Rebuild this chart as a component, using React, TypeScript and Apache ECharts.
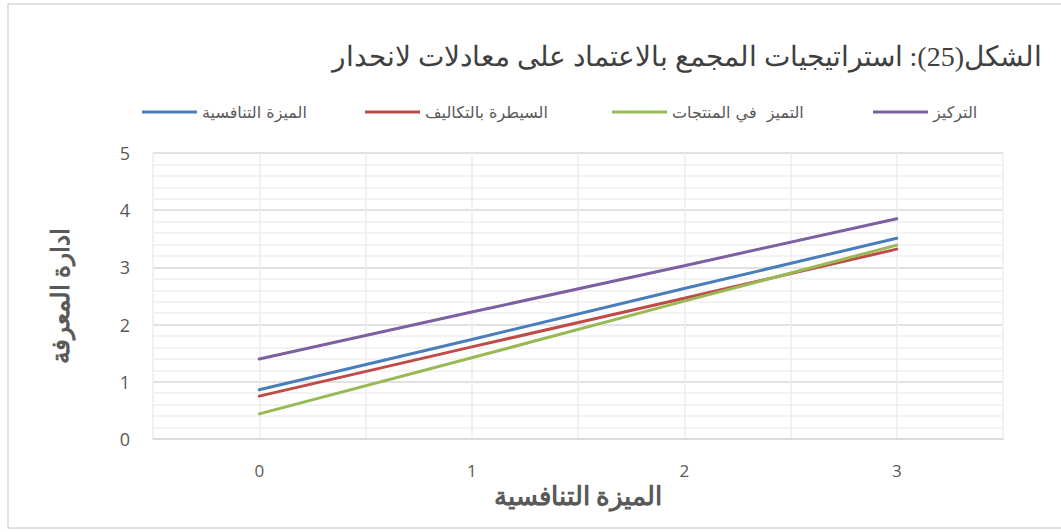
import React, { useEffect, useRef } from "react";
import * as echarts from "echarts";

const titleText = "الشكل(25): استراتيجيات المجمع بالاعتماد على معادلات لانحدار";
const xAxisName = "الميزة التنافسية";
const yAxisName = "ادارة المعرفة";

const xValues = [0, 1, 2, 3];
const xTickLabels = ["0", "1", "2", "3"];

const seriesNames = ["الميزة التنافسية", "السيطرة بالتكاليف", "التميز  في المنتجات", "التركيز"];
const competitive = [0.86, 1.74, 2.63, 3.51];
const costLeadership = [0.75, 1.61, 2.46, 3.32];
const differentiation = [0.44, 1.42, 2.41, 3.39];
const focus = [1.4, 2.22, 3.03, 3.85];
const seriesValues = [competitive, costLeadership, differentiation, focus];
const seriesColors = ["#4a7ebb", "#be4b48", "#98b954", "#7d60a0"];
const legendLefts = [137, 360, 607, 868];

export default function App() {
  const ref = useRef<HTMLDivElement>(null);

  useEffect(() => {
    if (!ref.current) return;
    const chart = echarts.init(ref.current, null, { renderer: "svg" });

    const series = seriesNames.map((name, i) => ({
      name,
      type: "line",
      data: xValues.map((x, j) => [x, seriesValues[i][j]]),
      showSymbol: false,
      symbol: "none",
      lineStyle: { color: seriesColors[i], width: 3, cap: "round" },
      itemStyle: { color: seriesColors[i] },
      z: 2 + i,
    }));

    const legends = seriesNames.map((name, i) => ({
      data: [name],
      left: legendLefts[i],
      top: 99,
      icon: "rect",
      itemWidth: 55,
      itemHeight: 3,
      itemGap: 0,
      textStyle: { color: "#595959", fontSize: 16, fontFamily: "DejaVu Sans, sans-serif" },
      selectedMode: false,
    }));

    chart.setOption({
      animation: false,
      backgroundColor: "#ffffff",
      graphic: [
        {
          type: "rect",
          shape: { x: 8, y: 4, width: 1100, height: 524 },
          style: { fill: "none", stroke: "#d9d9d9", lineWidth: 1.5 },
          silent: true,
          z: -10,
        },
        {
          type: "text",
          x: 1042,
          y: 56,
          style: {
            text: titleText,
            fill: "#404040",
            font: "normal 28px serif",
            textAlign: "right",
            textVerticalAlign: "middle",
          },
        },
      ],
      legend: legends,
      grid: { left: 153, right: 58, top: 153, bottom: 93, containLabel: false },
      xAxis: {
        type: "value",
        min: -0.5,
        max: 3.5,
        interval: 0.5,
        axisLine: { show: true, lineStyle: { color: "#d9d9d9", width: 1.5 } },
        axisTick: { show: false },
        axisLabel: {
          color: "#595959",
          fontSize: 17,
          margin: 23,
          fontFamily: "Open Sans, sans-serif",
          formatter: (v: number) => {
            const idx = xValues.indexOf(v);
            return idx >= 0 ? xTickLabels[idx] : "";
          },
        },
        splitLine: { show: true, lineStyle: { color: "#ececec", width: 1.5 } },
        name: xAxisName,
        nameLocation: "middle",
        nameGap: 36,
        nameTextStyle: { color: "#595959", fontSize: 26, fontWeight: "bold", fontFamily: "serif" },
      },
      yAxis: {
        type: "value",
        min: 0,
        max: 5,
        interval: 1,
        axisLine: { show: false },
        axisTick: { show: false },
        axisLabel: { color: "#595959", fontSize: 18, margin: 23, fontFamily: "Open Sans, sans-serif" },
        splitLine: { show: true, lineStyle: { color: "#d9d9d9", width: 1.5 } },
        minorTick: { show: false, splitNumber: 5 },
        minorSplitLine: { show: true, lineStyle: { color: "#efefef", width: 1.5 } },
        name: yAxisName,
        nameLocation: "middle",
        nameGap: 80,
        nameRotate: 90,
        nameTextStyle: { color: "#595959", fontSize: 25, fontWeight: "bold", fontFamily: "serif" },
      },
      series,
    });

    return () => chart.dispose();
  }, []);

  return (
    <div
      ref={ref}
      style={{ position: "absolute", left: 0, top: 0, width: 1061, height: 532 }}
    />
  );
}
